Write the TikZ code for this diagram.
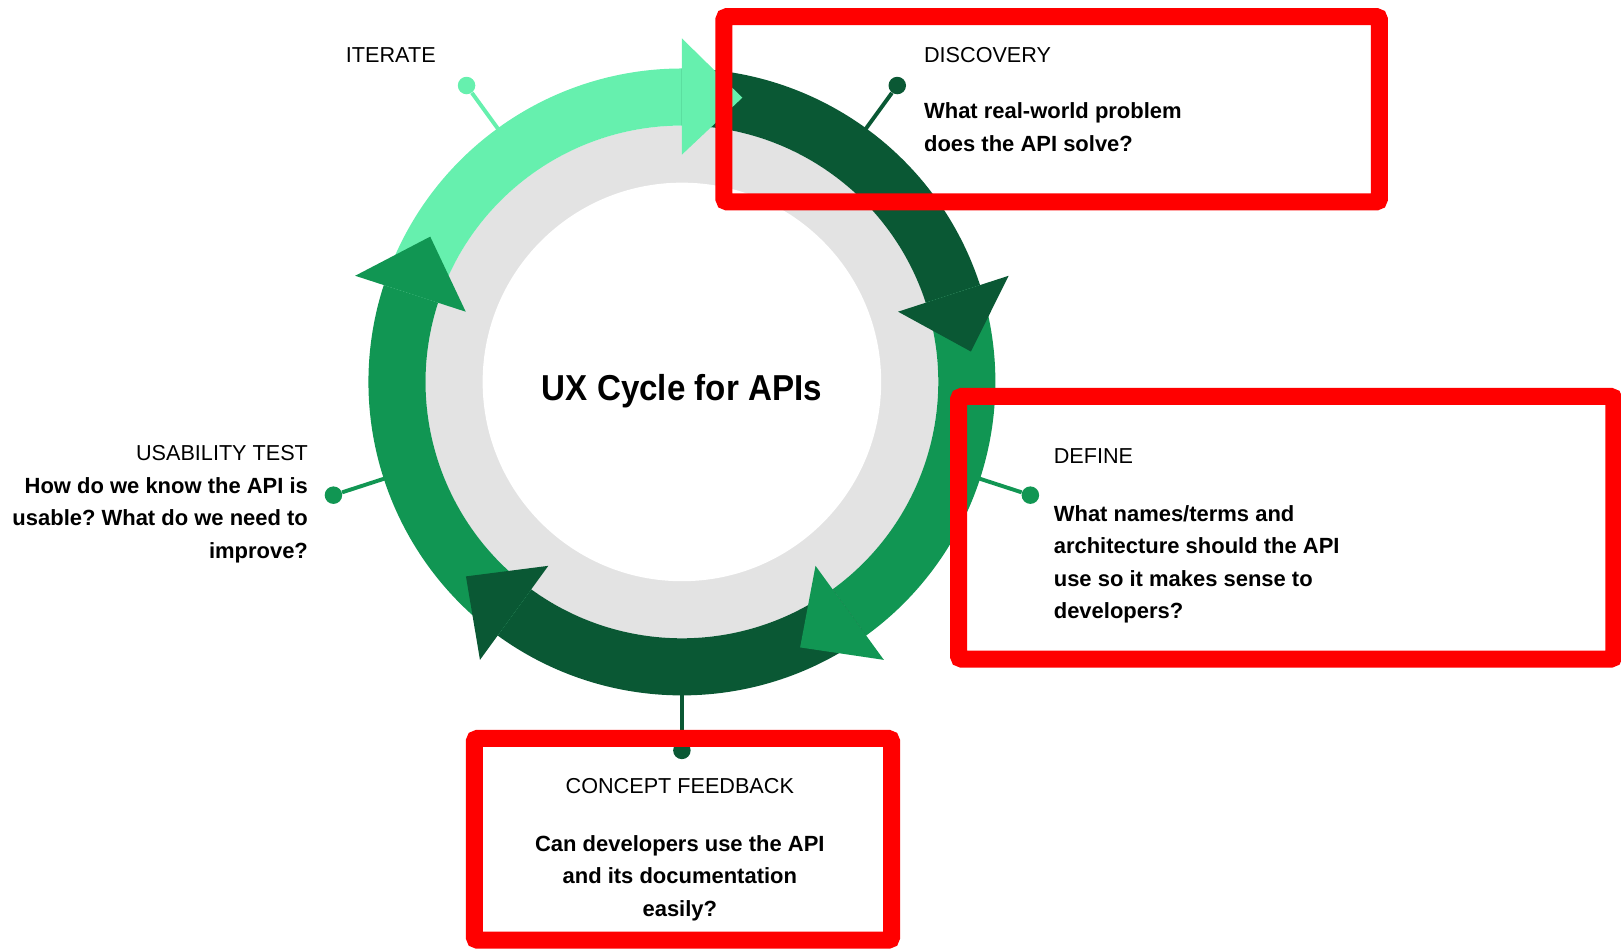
\documentclass[tikz,border=0pt]{standalone}
\usepackage{fontspec}
\setmainfont{Liberation Sans}
\newfontfamily\titlefont[FakeStretch=0.92]{Liberation Sans}
\frenchspacing

\definecolor{lightgreen}{HTML}{66F0AE}
\definecolor{darkgreen}{HTML}{0A5834}
\definecolor{midgreen}{HTML}{119653}
\definecolor{ringgrey}{HTML}{E3E3E3}

\tikzset{
  steplabel/.style={inner sep=0pt, font=\fontsize{12.3}{18.5}\selectfont},
  question/.style={inner sep=0pt, font=\bfseries\fontsize{12.5}{18.5}\selectfont},
  leader/.style={line width=0.078cm},
  leaddot/.style={circle, inner sep=0pt, minimum size=0.35cm},
  redbox/.style={draw=red, line width=0.34cm, rounded corners=0.062cm},
}

\begin{document}
\begin{tikzpicture}[x=0.020758cm,y=0.020758cm]
\useasboundingbox (0,34.6) rectangle (1561.8,948);

\begin{scope}[shift={(657,580)}]
% grey ring
\fill[ringgrey] (0,0) circle[radius=247];
\fill[white] (0,0) circle[radius=192];

% leaders
\coordinate (iteratering) at (126:300);
\coordinate (discoveryring) at (54:300);
\coordinate (definering) at (-18:300);
\coordinate (conceptring) at (-90:300);
\coordinate (usabilityring) at (198:300);
\node (iteratedot) [leaddot,fill=lightgreen] at (126:353) {};
\node (discoverydot) [leaddot,fill=darkgreen] at (54:353) {};
\node (definedot) [leaddot,fill=midgreen] at (-18:353) {};
\node (conceptdot) [leaddot,fill=darkgreen] at (-90:355) {};
\node (usabilitydot) [leaddot,fill=midgreen] at (198:353) {};
\draw[leader,lightgreen] (iteratering) -- (iteratedot);
\draw[leader,darkgreen] (discoveryring) -- (discoverydot);
\draw[leader,midgreen] (definering) -- (definedot);
\draw[leader,darkgreen] (conceptring) -- (conceptdot);
\draw[leader,midgreen] (usabilityring) -- (usabilitydot);

% arcs
\fill[lightgreen] (162:302) arc[start angle=162,end angle=90,radius=302] -- (90:247) arc[start angle=90,end angle=162,radius=247] -- cycle;
\fill[darkgreen] (90:302) arc[start angle=90,end angle=18,radius=302] -- (18:247) arc[start angle=18,end angle=90,radius=247] -- cycle;
\fill[midgreen] (18:302) arc[start angle=18,end angle=-54,radius=302] -- (-54:247) arc[start angle=-54,end angle=18,radius=247] -- cycle;
\fill[darkgreen] (-54:302) arc[start angle=-54,end angle=-126,radius=302] -- (-126:247) arc[start angle=-126,end angle=-54,radius=247] -- cycle;
\fill[midgreen] (-126:302) arc[start angle=-126,end angle=-198,radius=302] -- (-198:247) arc[start angle=-198,end angle=-126,radius=247] -- cycle;

% heads
\fill[lightgreen] (90:219) -- (90:331) -- (78:280) -- cycle;
\fill[darkgreen] (18:219) -- (18:331) -- (6:280) -- cycle;
\fill[midgreen] (-54:219) -- (-54:331) -- (-66:280) -- cycle;
\fill[darkgreen] (-126:219) -- (-126:331) -- (-138:280) -- cycle;
\fill[midgreen] (162:219) -- (162:331) -- (150:280) -- cycle;
\end{scope}

\node (title) [inner sep=0pt,anchor=base,font=\titlefont\bfseries\fontsize{20.5}{24}\selectfont] at (657,562) {UX Cycle for APIs};

% base of a question = its last line
\node (iteratelabel) [steplabel,anchor=base west] at (333,888) {ITERATE};
\node (discoverylabel) [steplabel,anchor=base west] at (890,888) {DISCOVERY};
\node (discoveryq) [question,align=left,anchor=base west] at (890,802) {What real-world problem\\does the API solve?};
\node (definelabel) [steplabel,anchor=base west] at (1015,501) {DEFINE};
\node (defineq) [question,align=left,anchor=base west] at (1015,352) {What names/terms and\\architecture should the API\\use so it makes sense to\\developers?};
\node (conceptlabel) [steplabel,anchor=base] at (655,183) {CONCEPT FEEDBACK};
\node (conceptq) [question,align=center,anchor=base] at (655,65) {Can developers use the API\\and its documentation\\easily?};
\node (usabilitylabel) [steplabel,anchor=base east] at (297,504) {USABILITY TEST};
\node (usabilityq) [question,align=right,anchor=base east] at (297,410) {How do we know the API is\\usable? What do we need to\\improve?};

% red boxes
\draw[redbox] (697.5,932) rectangle (1329,753.5);
\draw[redbox] (923.5,566) rectangle (1555,313);
\draw[redbox] (457,236.5) rectangle (859,42.2);

\end{tikzpicture}
\end{document}
